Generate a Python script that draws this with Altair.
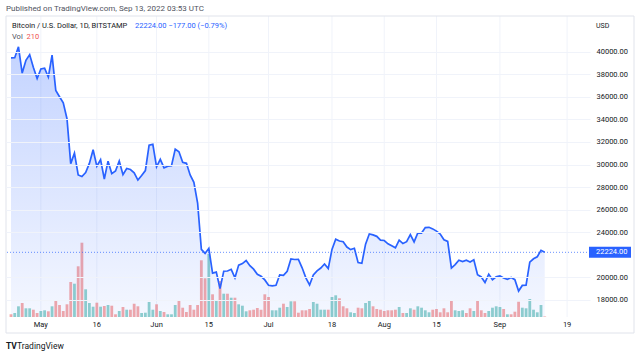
import altair as alt
import pandas as pd

# ---------------- data ----------------
start_date = "2022-04-23"
close = [39450, 39460, 40430, 38110, 39240, 39740, 38600, 37630,
         38470, 38530, 37750, 39700, 36560, 36010, 35470, 34060, 30080, 31010,
         29080, 28940, 29290, 30100, 31310, 29860, 30430, 28720, 30300, 29200,
         29430, 30320, 29100, 29650, 29560, 29270, 28630, 29030, 29470, 31720, 31790,
         29800, 30460, 29700, 29860, 29900, 31370, 31130, 30200, 30110, 29080,
         28420, 26590, 22490, 22130, 22580, 20380, 20470, 19010, 20550, 20570,
         20720, 19970, 21090, 21230, 21500, 21040, 20730, 20280, 20100, 19780,
         19300, 19250, 19300, 20230, 20190, 20550, 21640, 21590, 21600, 20850,
         19960, 19330, 20210, 20580, 20830, 21190, 20780, 22480, 23390, 23230,
         23160, 22690, 22460, 22580, 21310, 21250, 22950, 23850, 23770, 23640, 23300,
         23270, 22980, 22810, 22620, 23310, 23000, 23170, 23800, 23150, 23950,
         23930, 24420, 24440, 24300, 24100, 23850, 23340, 23190, 20830, 21140,
         21520, 21400, 21530, 21370, 21570, 20240, 20040, 19550, 20290, 19800, 20050,
         20130, 19950, 19830, 19990, 19800, 18790, 19290, 19320, 21360, 21650,
         21830, 22401, 22224]
volume = [1080, 1600, 4280, 5600, 3480, 3480, 2920, 1600, 2400, 2680,
          2280, 4280, 6680, 4800, 2400, 5080, 14000, 13320, 20280, 29720,
          11080, 5600, 4120, 5720, 4120, 4400, 4800, 4520, 1080, 2400,
          4000, 2920, 2920, 5320, 4280, 1600, 1720, 6000, 2920, 5080,
          2400, 2000, 1080, 1080, 4800, 6680, 3720, 2000, 4800, 2920,
          4800, 22680, 15480, 25200, 9080, 6800, 14400, 9320, 9320, 7720,
          7720, 5080, 4520, 2280, 2680, 2920, 3600, 2920, 9080, 8000,
          2680, 2680, 3720, 5320, 4000, 6280, 6280, 1720, 2680, 2680,
          3200, 6000, 5320, 2920, 2920, 2920, 8000, 8680, 7480, 4280,
          3480, 1880, 1600, 3720, 3480, 5600, 6680, 4280, 3200, 2920,
          2400, 2680, 2680, 2920, 4000, 1600, 1600, 3480, 2920, 4280,
          3720, 2680, 1880, 2920, 3200, 1880, 3480, 1880, 6680, 2680,
          2400, 2680, 1600, 3480, 2400, 6680, 2680, 1600, 2400, 3720,
          4280, 4000, 3200, 1080, 1080, 2120, 6120, 3720, 3480, 7200,
          2920, 1880, 4800, 210]
direction = list("duuduudduu" "dudddddudd" "uuudududdu" "duddduuuud"
                 "uduuuddddd" "dddudududu" "duuudddddd" "uuuduudddd"
                 "duuuuduudd" "duudduuddd" "dddduduudu" "uuuddddddu"
                 "uudduddduu" "uududdduuu" "uuud")

tick_dates = ["2022-05-01", "2022-05-16", "2022-06-01", "2022-06-15", "2022-07-01",
              "2022-07-18", "2022-08-01", "2022-08-15", "2022-09-01", "2022-09-19"]
tick_labels = ["May", "16", "Jun", "15", "Jul", "18", "Aug", "15", "Sep", "19"]
price_ticks = [18000, 20000, 24000, 26000, 28000, 30000, 32000, 34000, 36000, 38000, 40000]
price_domain = [16493, 43163]
x_domain = ["2022-04-23T00:00:00Z", "2022-09-23T19:00:00Z"]

dates = pd.date_range(start_date, periods=len(close), freq="D").strftime("%Y-%m-%dT00:00:00Z")
df = pd.DataFrame({"date": dates, "close": close, "volume": volume, "dir": direction})
df["base"] = price_domain[0]
ticks_df = pd.DataFrame({"date": [d + "T00:00:00Z" for d in tick_dates], "label": tick_labels})

last = close[-1]
chg = close[-1] - close[-2]
pct = chg / close[-2] * 100
def fmt_signed(v, digits=2):
    s = f"{abs(v):.{digits}f}"
    return ("\u2212" + s) if v < 0 else ("+" + s)
quote_text = f"{last:.2f}  {fmt_signed(chg)} ({fmt_signed(pct)}%)"
vol_text = f"{volume[-1]}"

FONT = "Roboto"
BLUE = "#2962ff"
TXT = "#131722"
GRID = "#f0f3fa"

def ms(d):
    return int(pd.Timestamp(d).value // 10**6)

x_scale = alt.Scale(type="utc", domain=[ms(x_domain[0]), ms(x_domain[1])])
X = alt.X("date:T", scale=x_scale, axis=None)
y_scale = alt.Scale(domain=price_domain, zero=False, nice=False)
y_axis = alt.Axis(orient="right", values=price_ticks, format=".2f", title=None,
                  grid=True, gridColor=GRID, ticks=False, domain=False,
                  labelPadding=6, labelFontSize=7.5, labelFont=FONT, labels=True,
                  labelColor=TXT, zindex=1)

base = alt.Chart(df)

vgrid = alt.Chart(ticks_df).mark_rule(color=GRID, strokeWidth=1).encode(
    x=X, y=alt.value(0), y2=alt.value(301))

xlabels = alt.Chart(ticks_df).mark_text(baseline="middle", align="center", color=TXT,
                                        fontSize=7.5, font=FONT).encode(
    x=X, y=alt.value(309), text="label:N")

bars = base.mark_bar(size=2.8, opacity=0.5, clip=True).encode(
    x=X,
    y=alt.Y("volume:Q", scale=alt.Scale(domain=[0, 120400]), axis=None),
    color=alt.Color("dir:N", scale=alt.Scale(domain=["u", "d"], range=["#26a69a", "#ef5350"]),
                    legend=None),
)

area = base.mark_area(
    color=alt.Gradient(
        gradient="linear",
        stops=[alt.GradientStop(color="rgba(41,98,255,0.05)", offset=0),
               alt.GradientStop(color="rgba(41,98,255,0.28)", offset=1)],
        x1=1, x2=1, y1=1, y2=0),
).encode(x=X, y=alt.Y("close:Q", scale=y_scale, axis=None), y2="base:Q")

line = base.mark_line(color=BLUE, strokeWidth=1.7).encode(
    x=X, y=alt.Y("close:Q", scale=y_scale, axis=y_axis))

one = pd.DataFrame({"k": [0]})
last_df = pd.DataFrame({"close": [last], "label": [f"{last:.2f}"]})

rule = alt.Chart(last_df).mark_rule(color=BLUE, strokeDash=[1, 2], strokeWidth=1, opacity=0.7).encode(
    y=alt.Y("close:Q", scale=y_scale, axis=None))

box = alt.Chart(last_df).mark_tick(orient="horizontal", color=BLUE, size=42, thickness=11, opacity=1).encode(
    x=alt.value(604), y=alt.Y("close:Q", scale=y_scale, axis=None))

box_text = alt.Chart(last_df).mark_text(align="left", baseline="middle", color="white",
                                        fontSize=7.5, font=FONT).encode(
    x=alt.value(590), y=alt.Y("close:Q", scale=y_scale, axis=None), text="label:N")

def txt(s, x, y, color, size=7.5, weight="normal"):
    return alt.Chart(one).mark_text(align="left", baseline="middle", color=color,
                                    fontSize=size, font=FONT, fontWeight=weight).encode(
        x=alt.value(x), y=alt.value(y), text=alt.value(s))

frame = alt.Chart(one).mark_rect(fillOpacity=0, stroke="#e0e3eb", strokeWidth=1).encode(
    x=alt.value(0), x2=alt.value(628), y=alt.value(0), y2=alt.value(317))

chart = alt.layer(
    vgrid, bars, area, line, rule, box, box_text, xlabels, frame,
    txt("Published on TradingView.com, Sep 13, 2022 03:53 UTC", 0, -7, "#50535e", 8),
    txt("Bitcoin / U.S. Dollar, 1D, BITSTAMP", 6, 10, TXT, 7.5),
    txt(quote_text, 129, 10, BLUE, 7.5),
    txt("Vol", 6, 21, "#50535e", 7.5),
    txt(vol_text, 20.5, 21, "#ef5350", 7.5),
    txt("USD", 590, 10, TXT, 7),
    txt("TV", 0, 330, TXT, 8.5, "bold"),
    txt("TradingView", 11, 330, TXT, 8.5),
).resolve_scale(y="independent").properties(
    width=584, height=301,
    autosize=alt.AutoSizeParams(type="none"),
    padding={"left": 6, "top": 16, "right": 50, "bottom": 39},
    background="white",
).configure_view(strokeWidth=0)

chart.save("out.html", embed_options={"renderer": "svg", "actions": False})
